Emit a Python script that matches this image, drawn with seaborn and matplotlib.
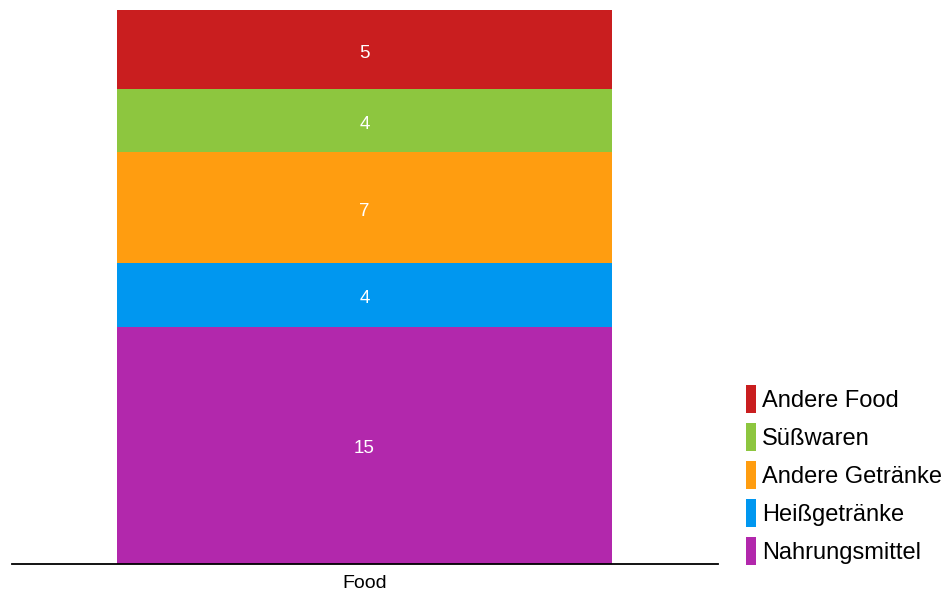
import matplotlib
matplotlib.use("Agg")
import matplotlib.pyplot as plt
import seaborn as sns
import pandas as pd
from matplotlib.patches import Patch

# Stack order, bottom to top
categories = ["Nahrungsmittel", "Heißgetränke", "Andere Getränke", "Süßwaren", "Andere Food"]
values = [15, 4, 7, 4, 5]
colors = ["#B228AC", "#0097F0", "#FF9D10", "#8DC63F", "#C91E1F"]
group = ["Food"]

sns.set_theme(style="white")
plt.rcParams["font.family"] = ["Liberation Sans", "DejaVu Sans"]

fig = plt.figure(figsize=(9.48, 5.95), dpi=100)
ax = fig.add_axes([11.5 / 948, 31 / 595, 706 / 948, 554 / 595])

bottom = 0
for cat, val, col in zip(categories, values, colors):
    df = pd.DataFrame({"group": group, "value": [val]})
    sns.barplot(data=df, x="group", y="value", color=col, saturation=1,
                width=0.7, bottom=bottom, ax=ax, linewidth=0, errorbar=None)
    ax.annotate(str(val), (0, bottom + val / 2), xytext=(0, -1.2),
                textcoords="offset points", ha="center", va="center_baseline",
                color="white", fontsize=13.5)
    bottom += val

ax.set_xlim(-0.5, 0.5)
ax.set_ylim(0, sum(values))
ax.set_xlabel("")
ax.set_ylabel("")
ax.set_yticks([])
ax.tick_params(axis="x", length=0, labelsize=14, pad=8, labelcolor="black")
for side in ["top", "right", "left"]:
    ax.spines[side].set_visible(False)
ax.spines["bottom"].set_color("black")
ax.spines["bottom"].set_linewidth(1.3)

handles = [Patch(facecolor=c, edgecolor="none", label=l)
           for l, c in zip(categories[::-1], colors[::-1])]
leg = fig.legend(handles=handles, loc="lower left", bbox_to_anchor=(746 / 948, 30 / 595),
                 frameon=False, fontsize=17, handlelength=0.42, handleheight=1.45,
                 handletextpad=0.25, labelspacing=0.42, borderpad=0, borderaxespad=0)
for t in leg.get_texts():
    t.set_color("black")

fig.savefig("out.png", dpi=100, facecolor="white")
